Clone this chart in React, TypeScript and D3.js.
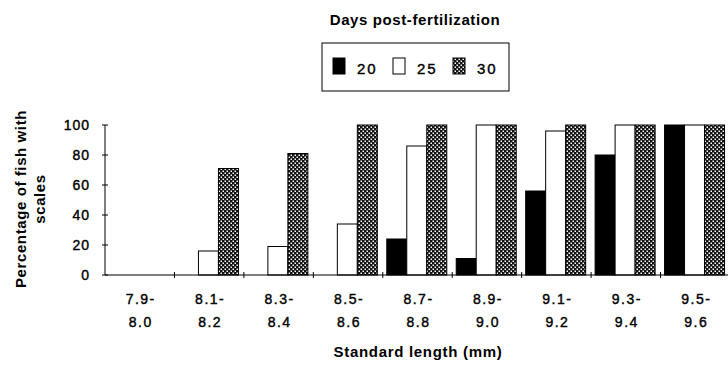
import React, { useRef, useEffect } from 'react';
import * as d3 from 'd3';

// length classes (two-line labels)
const categories = ['7.9-8.0', '8.1-8.2', '8.3-8.4', '8.5-8.6', '8.7-8.8', '8.9-9.0', '9.1-9.2', '9.3-9.4', '9.5-9.6'];
const labelTop = ['7.9-', '8.1-', '8.3-', '8.5-', '8.7-', '8.9-', '9.1-', '9.3-', '9.5-'];
const labelBottom = ['8.0', '8.2', '8.4', '8.6', '8.8', '9.0', '9.2', '9.4', '9.6'];

const seriesNames = ['20', '25', '30'];
const day20 = [0, 0, 0, 0, 24, 11, 56, 80, 100];
const day25 = [0, 16, 19, 34, 86, 100, 96, 100, 100];
const day30 = [0, 71, 81, 100, 100, 100, 100, 100, 100];
const seriesValues = [day20, day25, day30];

const yTicks = [0, 20, 40, 60, 80, 100];

const WIDTH = 728;
const HEIGHT = 365;
const FONT = '"Liberation Sans", Arial, Helvetica, sans-serif';

const fills = ['#000', '#fff', 'url(#dots)'];

const App: React.FC = () => {
  const svgRef = useRef<SVGSVGElement>(null);

  useEffect(() => {
    if (!svgRef.current) return;
    const svg = d3.select(svgRef.current);
    svg.selectAll('*').remove();

    // dotted fill for day 30
    const defs = svg.append('defs');
    const pat = defs.append('pattern')
      .attr('id', 'dots')
      .attr('patternUnits', 'userSpaceOnUse')
      .attr('width', 4)
      .attr('height', 4);
    pat.append('rect').attr('width', 4).attr('height', 4).attr('fill', '#111');
    pat.append('rect').attr('x', 0.5).attr('y', 0.5).attr('width', 1.5).attr('height', 1.5).attr('fill', '#fff');
    pat.append('rect').attr('x', 2.5).attr('y', 2.5).attr('width', 1.5).attr('height', 1.5).attr('fill', '#fff');

    const x = d3.scaleBand<string>()
      .domain(categories)
      .range([105, 730])
      .padding(0);

    const xSub = d3.scaleBand<string>()
      .domain(seriesNames)
      .range([4, 64])
      .padding(0);

    const y = d3.scaleLinear()
      .domain([0, 100])
      .range([275, 125]);

    // bars
    seriesNames.forEach((s, si) => {
      svg.append('g')
        .selectAll('rect')
        .data(seriesValues[si])
        .enter().append('rect')
        .attr('x', (_d, i) => (x(categories[i]) as number) + (xSub(s) as number))
        .attr('y', d => y(d))
        .attr('width', xSub.bandwidth())
        .attr('height', d => y(0) - y(d))
        .attr('fill', fills[si])
        .attr('stroke', '#000')
        .attr('stroke-width', 1);
    });

    // y axis
    const yAxis = svg.append('g');
    yAxis.append('line')
      .attr('x1', 105).attr('x2', 105)
      .attr('y1', y(100)).attr('y2', y(0))
      .attr('stroke', '#000');
    yAxis.selectAll('.ytick')
      .data(yTicks)
      .enter().append('line')
      .attr('x1', 102).attr('x2', 108)
      .attr('y1', d => y(d)).attr('y2', d => y(d))
      .attr('stroke', '#000');
    yAxis.selectAll('.ylab')
      .data(yTicks)
      .enter().append('text')
      .attr('x', 90)
      .attr('y', d => y(d))
      .attr('dy', '0.36em')
      .attr('text-anchor', 'end')
      .style('font-family', FONT)
      .style('font-size', '14px')
      .style('letter-spacing', '1px')
      .style('stroke', '#000')
      .style('stroke-width', '0.4px')
      .text(d => d);

    // x axis
    const xAxis = svg.append('g');
    xAxis.append('line')
      .attr('x1', 105).attr('x2', 728)
      .attr('y1', y(0)).attr('y2', y(0))
      .attr('stroke', '#000');
    xAxis.selectAll('.xtick')
      .data(categories.slice(1))
      .enter().append('line')
      .attr('x1', d => x(d) as number).attr('x2', d => x(d) as number)
      .attr('y1', y(0) - 3).attr('y2', y(0) + 3)
      .attr('stroke', '#000');

    const cx = (i: number) => (x(categories[i]) as number) + x.bandwidth() / 2;
    const xLabels = (rows: string[], yy: number) =>
      xAxis.selectAll(null)
        .data(rows)
        .enter().append('text')
        .attr('x', (_d, i) => cx(i) + 1)
        .attr('y', yy)
        .attr('text-anchor', 'middle')
        .style('font-family', FONT)
        .style('font-size', '14px')
        .style('letter-spacing', '1.5px')
        .style('stroke', '#000')
        .style('stroke-width', '0.4px')
        .text(d => d);
    xLabels(labelTop, 304);
    xLabels(labelBottom, 327);

    // axis titles
    svg.append('text')
      .attr('x', 418)
      .attr('y', 357)
      .attr('text-anchor', 'middle')
      .style('font-family', FONT)
      .style('font-size', '15px')
      .style('letter-spacing', '0.7px')
      .style('font-weight', 'bold')
      .text('Standard length (mm)');

    const yTitle = svg.append('text')
      .attr('transform', 'translate(0,199) rotate(-90)')
      .attr('text-anchor', 'middle')
      .style('font-family', FONT)
      .style('font-size', '15px')
      .style('letter-spacing', '0.6px')
      .style('font-weight', 'bold');
    yTitle.append('tspan').attr('x', 0).attr('y', 26).text('Percentage of fish with');
    yTitle.append('tspan').attr('x', 0).attr('y', 45).text('scales');

    // legend
    svg.append('text')
      .attr('x', 415)
      .attr('y', 25)
      .attr('text-anchor', 'middle')
      .style('font-family', FONT)
      .style('font-size', '15px')
      .style('letter-spacing', '0.6px')
      .style('font-weight', 'bold')
      .text('Days post-fertilization');

    svg.append('rect')
      .attr('x', 322).attr('y', 43)
      .attr('width', 187).attr('height', 48)
      .attr('fill', 'none')
      .attr('stroke', '#000');

    const leg = svg.append('g');
    seriesNames.forEach((s, si) => {
      const lx = 333 + si * 60;
      leg.append('rect')
        .attr('x', lx).attr('y', 58)
        .attr('width', 12).attr('height', 16)
        .attr('fill', fills[si])
        .attr('stroke', '#000');
      leg.append('text')
        .attr('x', lx + 24)
        .attr('y', 74)
        .style('font-family', FONT)
        .style('font-size', '15px')
        .style('letter-spacing', '2px')
        .style('stroke', '#000')
        .style('stroke-width', '0.4px')
        .text(s);
    });
  }, []);

  return (
    <svg
      ref={svgRef}
      width={WIDTH}
      height={HEIGHT}
      style={{ position: 'absolute', left: 0, top: 0, background: '#fff' }}
    ></svg>
  );
};

export default App;
